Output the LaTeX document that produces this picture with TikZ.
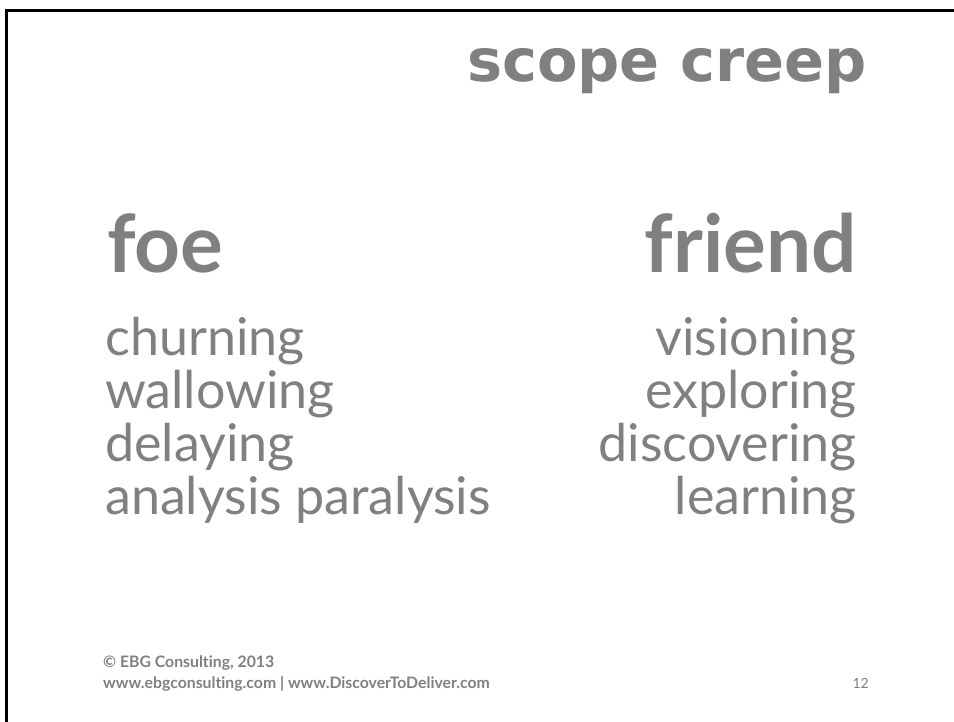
\documentclass[tikz,border=0pt]{standalone}
\usepackage{fontspec}
\setmainfont{Lato}[Ligatures=NoCommon]
\newfontfamily\titlefont{DejaVu Sans}
\usepackage{tikz}
\definecolor{slidegray}{HTML}{808080}
\tikzset{
  txt/.style={inner sep=0pt, text=slidegray},
  headline/.style={txt, anchor=base east, font=\titlefont\bfseries\fontsize{59}{59}\selectfont},
  side/.style={txt, font=\bfseries\fontsize{80}{80}\selectfont},
  item/.style={txt, font=\fontsize{52}{52}\selectfont},
  foot/.style={txt, anchor=base west, align=left, font=\bfseries\fontsize{15.8}{21}\selectfont}
}
\def\gap{53}

\begin{document}
\begin{tikzpicture}[x=1pt, y=1pt]
        \useasboundingbox (0,0) rectangle (954,722);
        \draw[line width=3pt] (6,0) -- (6,711) -- (954,711);
        \node[headline] (title) at (867,640) {scope creep};
        \node[side, anchor=base west] (foe) at (107,449) {foe};
        \node[side, anchor=base east] (friend) at (857,449) {friend};
        \foreach \w [count=\i] in {churning,wallowing,delaying,analysis paralysis}{
          \node[item, anchor=base west] (foe\i) at (105,{366-\gap*(\i-1)}) {\w};
        }
        \foreach \w [count=\i] in {visioning,exploring,discovering,learning}{
          \node[item, anchor=base east] (friend\i) at (857,{366-\gap*(\i-1)}) {\w};
        }
        \node[foot] (credit) at (103,33) {© EBG Consulting, 2013\\www.ebgconsulting.com | www.DiscoverToDeliver.com};
        \node[txt, anchor=base east, font=\fontsize{14}{14}\selectfont] (page) at (869,33) {12};
      \end{tikzpicture}
\end{document}
